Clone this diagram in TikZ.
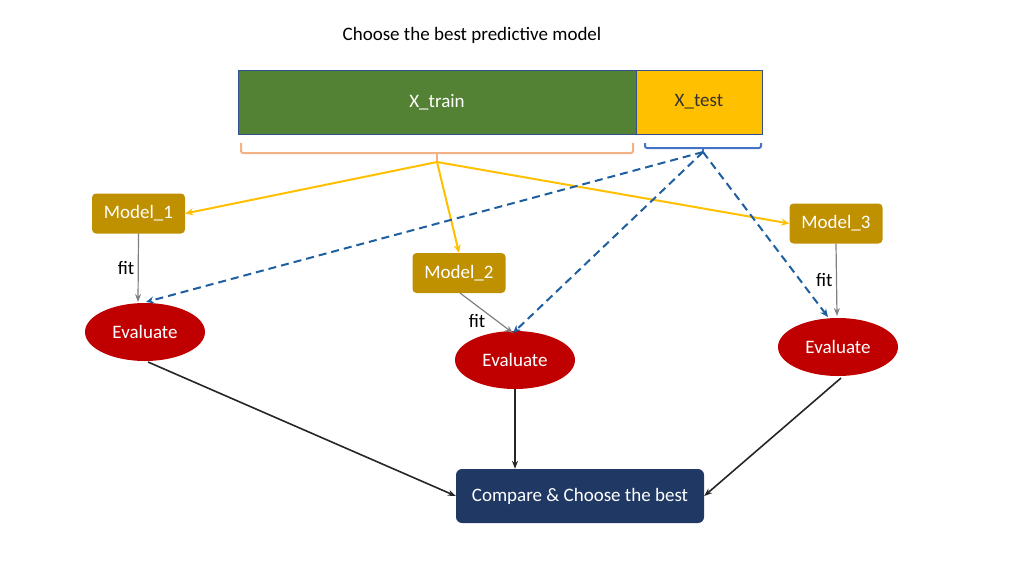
\documentclass[tikz,border=0pt]{standalone}
\usepackage{fontspec}
\setmainfont{Carlito}
\usetikzlibrary{shapes.geometric,arrows.meta}
\definecolor{trainGreen}{HTML}{548235}
\definecolor{testYellow}{HTML}{FFC000}
\definecolor{modelGold}{HTML}{BF9000}
\definecolor{evalRed}{HTML}{C00000}
\definecolor{cmpNavy}{HTML}{203864}
\definecolor{edgeBlue}{HTML}{2F528F}
\definecolor{dashBlue}{HTML}{1F5F9F}
\definecolor{braceOrange}{HTML}{F4B183}
\definecolor{braceBlue}{HTML}{4472C4}

\begin{document}
\begin{tikzpicture}[x=1pt,y=-1pt,font=\fontsize{19}{23}\selectfont,
    model/.style={rectangle,rounded corners=4pt,fill=modelGold,text=white,minimum width=93pt,minimum height=40pt,inner sep=0pt},
    evaluate/.style={ellipse,fill=evalRed,text=white,minimum width=120pt,minimum height=58pt,inner sep=0pt},
    split/.style={rectangle,draw=edgeBlue,line width=1pt,minimum height=64pt,inner sep=0pt},
    feed/.style={-{Stealth[length=8pt,width=7pt]},testYellow,line width=2pt},
    test/.style={-{Stealth[length=8pt,width=7pt]},dashBlue,dash pattern=on 8pt off 5pt,line width=2pt},
    fit/.style={-{Stealth[length=8pt,width=6pt]},gray,line width=1.2pt},
    result/.style={-{Stealth[length=8pt,width=6pt]},black!85,line width=1.6pt}]
    \useasboundingbox (0,0) rectangle (1020,574);
	\node (title) at (472,35) {Choose the best predictive model};
	\node[split,fill=trainGreen,text=white,minimum width=398pt] (train) at (437,102) {X\_train};
	\node[split,fill=testYellow,text=black!80,minimum width=126pt] (xtest) at (699,102) {X\_test};
	% brackets under the split
	\coordinate (trainTip) at (437,162);
	\coordinate (testTip) at (703,152);
	\draw[braceOrange,line width=2pt,rounded corners=2pt]
	    (241,143) -- (241,153) -- (633,153) -- (633,143);
	\draw[braceOrange,line width=2pt] (437,153) -- (trainTip);
	\draw[braceBlue,line width=2pt,rounded corners=2pt]
	    (645,143) -- (645,148) -- (761,148) -- (761,143);
	\draw[braceBlue,line width=2pt] (703,148) -- (testTip);
	\node[model] (m1) at (138.5,213.5) {Model\_1};
	\node[model] (m2) at (459,273) {Model\_2};
	\node[model] (m3) at (836,223.5) {Model\_3};
	\node[evaluate] (e1) at (145,332) {Evaluate};
	\node[evaluate] (e2) at (515,360) {Evaluate};
	\node[evaluate] (e3) at (838,347) {Evaluate};
	\node[rectangle,rounded corners=6pt,fill=cmpNavy,text=white,minimum width=248pt,minimum height=54pt,inner sep=0pt]
	    (best) at (580,496) {Compare \& Choose the best};
    \path[feed] (trainTip) edge (m1.east);
    \path[feed] (trainTip) edge (m2.north);
    \path[feed] (trainTip) edge (m3.west);
    \path[fit] (m1.south) edge node[left,text=black] {fit} (138,302);
    \path[fit] (460,293) edge node[pos=0.7,left=8pt,text=black] {fit} (513,333);
    \path[fit] (m3.south) edge node[left,text=black] {fit} (837,316);
    \path[test] (testTip) edge (146,302);
    \path[test] (testTip) edge (513,333);
    \path[test] (testTip) edge (828,317);
    \path[result] (148,362) edge (best.west);
    \path[result] (e2.south) edge (best.north -| e2.south);
    \path[result] (841,378) edge (best.east);
	\end{tikzpicture}
\end{document}
